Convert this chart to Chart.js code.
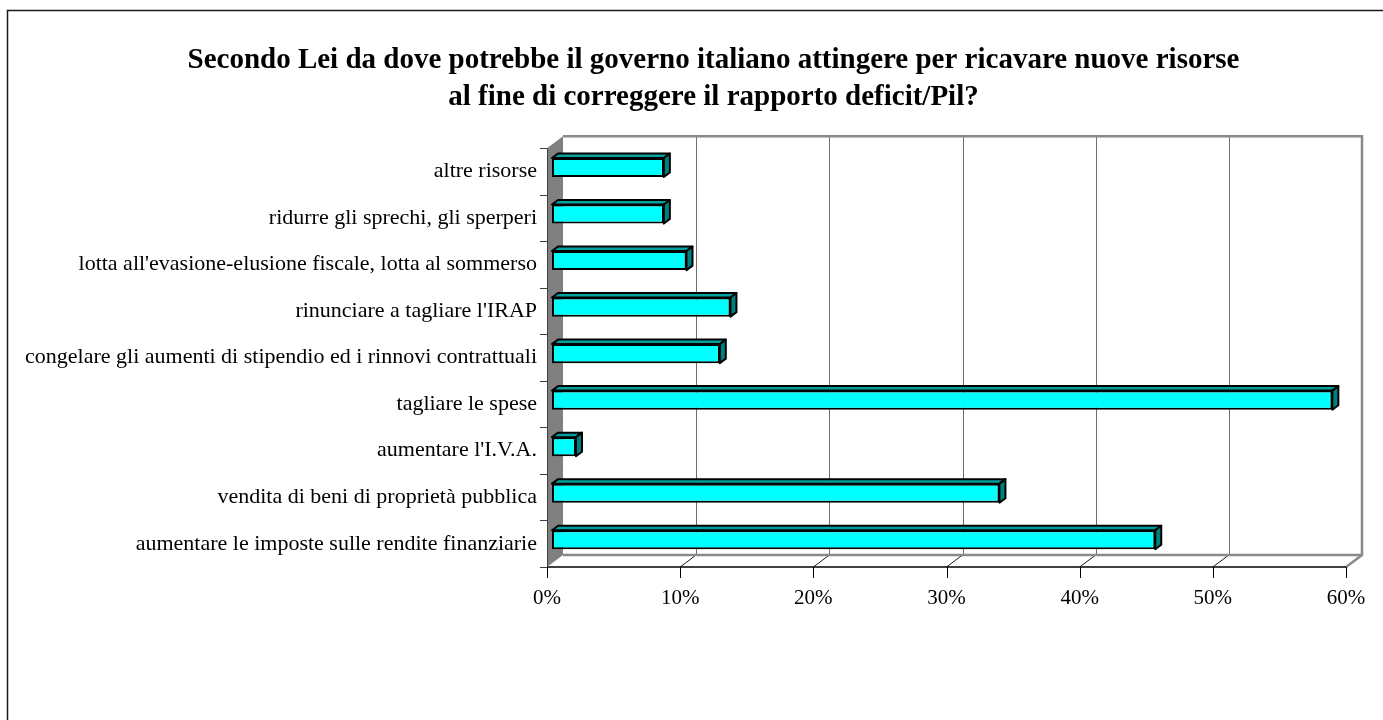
<!DOCTYPE html>
<html>
<head>
<meta charset="utf-8">
<script src="https://cdn.jsdelivr.net/npm/chart.js@4.4.0/dist/chart.umd.min.js"></script>
<style>
  html, body { margin: 0; padding: 0; background: #fff; }
</style>
</head>
<body>
<canvas id="myChart" width="1383" height="720"></canvas>
<script>
// answers, listed from the bottom bar upwards
var categories = [
    'aumentare le imposte sulle rendite finanziarie',
    'vendita di beni di proprietà pubblica',
    "aumentare l'I.V.A.",
    'tagliare le spese',
    'congelare gli aumenti di stipendio ed i rinnovi contrattuali',
    "rinunciare a tagliare l'IRAP",
    "lotta all'evasione-elusione fiscale, lotta al sommerso",
    'ridurre gli sprechi, gli sperperi',
    'altre risorse'
];
// share of answers, in percent
var values = [45.3, 33.6, 1.8, 58.6, 12.6, 13.4, 10.1, 8.4, 8.4];
var tickLabels = ['0%', '10%', '20%', '30%', '40%', '50%', '60%'];

var FONT = '"Liberation Serif", "Times New Roman", serif';

// fake 3d: the bars sit a little behind the front plane
var BAR_OFF_X = 5, BAR_OFF_Y = 4;     // front plane -> bar front face
var WALL_DX = 16, WALL_DY = -12;      // front plane -> back wall
var BAR_DX = 6, BAR_DY = -4.5;        // bar depth

function poly(ctx, pts) {
    ctx.beginPath();
    ctx.moveTo(pts[0][0], pts[0][1]);
    for (var i = 1; i < pts.length; i++) ctx.lineTo(pts[i][0], pts[i][1]);
    ctx.closePath();
}

var frame3d = {
    id: 'frame3d',
    beforeDraw: function (chart) {
        var ctx = chart.ctx;
        ctx.save();
        ctx.strokeStyle = '#1a1a1a';
        ctx.lineWidth = 1.5;
        ctx.beginPath();
        ctx.moveTo(7.5, 720);
        ctx.lineTo(7.5, 10.5);
        ctx.lineTo(1383, 10.5);
        ctx.stroke();
        ctx.restore();
    },
    beforeDatasetsDraw: function (chart) {
        var ctx = chart.ctx, xs = chart.scales.x, area = chart.chartArea;
        var fx = function (v) { return xs.getPixelForValue(v) - BAR_OFF_X; };
        var top = area.top + BAR_OFF_Y, bottom = area.bottom + BAR_OFF_Y;
        var x0 = fx(0), x1 = fx(60);
        ctx.save();

        // back wall with its gridlines
        ctx.fillStyle = '#fff';
        ctx.fillRect(x0 + WALL_DX, top + WALL_DY, x1 - x0, bottom - top);
        ctx.strokeStyle = '#6e6e6e';
        ctx.lineWidth = 1;
        for (var v = 10; v < 60; v += 10) {
            var gx = Math.round(fx(v) + WALL_DX) + 0.5;
            ctx.beginPath();
            ctx.moveTo(gx, top + WALL_DY);
            ctx.lineTo(gx, bottom + WALL_DY);
            ctx.stroke();
        }

        // floor
        poly(ctx, [[x0, bottom], [x1, bottom], [x1 + WALL_DX, bottom + WALL_DY], [x0 + WALL_DX, bottom + WALL_DY]]);
        ctx.fillStyle = '#fff';
        ctx.fill();
        ctx.strokeStyle = '#1a1a1a';
        ctx.lineWidth = 1;
        for (v = 10; v < 60; v += 10) {
            ctx.beginPath();
            ctx.moveTo(fx(v), bottom);
            ctx.lineTo(fx(v) + WALL_DX, bottom + WALL_DY);
            ctx.stroke();
        }

        // grey outline of the box: top, right side, back floor edge
        ctx.strokeStyle = '#8a8a8a';
        ctx.lineWidth = 2.5;
        ctx.lineJoin = 'miter';
        ctx.beginPath();
        ctx.moveTo(x0 + WALL_DX, top + WALL_DY);
        ctx.lineTo(x1 + WALL_DX, top + WALL_DY);
        ctx.lineTo(x1 + WALL_DX, bottom + WALL_DY);
        ctx.lineTo(x1, bottom);
        ctx.stroke();
        ctx.beginPath();
        ctx.moveTo(x0 + WALL_DX, bottom + WALL_DY);
        ctx.lineTo(x1 + WALL_DX, bottom + WALL_DY);
        ctx.stroke();

        // left wall
        poly(ctx, [[x0, top], [x0 + WALL_DX, top + WALL_DY], [x0 + WALL_DX, bottom + WALL_DY], [x0, bottom]]);
        ctx.fillStyle = '#808080';
        ctx.fill();

        // front axis line and ticks
        ctx.strokeStyle = '#000';
        ctx.lineWidth = 1.5;
        ctx.beginPath();
        ctx.moveTo(x0, bottom);
        ctx.lineTo(x1, bottom);
        ctx.stroke();
        ctx.lineWidth = 1;
        for (v = 0; v <= 60; v += 10) {
            var tx = Math.round(fx(v)) + 0.5;
            ctx.beginPath();
            ctx.moveTo(tx, bottom);
            ctx.lineTo(tx, bottom + 11);
            ctx.stroke();
        }

        // category ticks on the left of the wall
        ctx.strokeStyle = '#404040';
        var n = categories.length, step = (bottom - top) / n;
        for (var i = 0; i <= n; i++) {
            var ty = Math.round(top + i * step) + 0.5;
            ctx.beginPath();
            ctx.moveTo(x0 - 7, ty);
            ctx.lineTo(x0, ty);
            ctx.stroke();
        }
        ctx.beginPath();
        ctx.moveTo(x0 + 0.5, top);
        ctx.lineTo(x0 + 0.5, bottom);
        ctx.stroke();
        ctx.restore();
    },
    afterDatasetsDraw: function (chart) {
        var ctx = chart.ctx;
        ctx.save();
        ctx.strokeStyle = '#000';
        ctx.lineWidth = 2;
        ctx.lineJoin = 'round';
        chart.getDatasetMeta(0).data.forEach(function (bar) {
            var p = bar.getProps(['x', 'y', 'base', 'height'], true);
            var t = p.y - p.height / 2, b = p.y + p.height / 2;
            // top face
            poly(ctx, [[p.base, t], [p.base + BAR_DX, t + BAR_DY], [p.x + BAR_DX, t + BAR_DY], [p.x, t]]);
            ctx.fillStyle = '#00a0a0';
            ctx.fill();
            ctx.stroke();
            // end face
            poly(ctx, [[p.x, t], [p.x + BAR_DX, t + BAR_DY], [p.x + BAR_DX, b + BAR_DY], [p.x, b]]);
            ctx.fillStyle = '#007f7f';
            ctx.fill();
            ctx.stroke();
        });
        ctx.restore();
    }
};

var ctx = document.getElementById('myChart').getContext('2d');
var chart = new Chart(ctx, {
    type: 'bar',
    data: {
        labels: categories,
        datasets: [{
            data: values,
            backgroundColor: '#00ffff',
            borderColor: '#000',
            borderWidth: 2,
            borderSkipped: false,
            categoryPercentage: 1,
            barPercentage: 0.41
        }]
    },
    options: {
        indexAxis: 'y',
        responsive: false,
        animation: false,
        devicePixelRatio: 1,
        layout: { padding: { left: 76, right: 32, top: 0, bottom: 0 }, autoPadding: false },
        plugins: {
            legend: { display: false },
            tooltip: { enabled: false },
            title: {
                display: true,
                text: ['Secondo Lei da dove potrebbe il governo italiano attingere per ricavare nuove risorse',
                       'al fine di correggere il rapporto deficit/Pil?'],
                color: '#000',
                font: { family: FONT, size: 29, weight: 'bold', lineHeight: 1.28 },
                padding: { top: 42, bottom: 28 }
            }
        },
        scales: {
            x: {
                min: 0,
                max: 60,
                grid: { display: false },
                border: { display: false },
                ticks: {
                    stepSize: 10,
                    padding: 15,
                    labelOffset: -BAR_OFF_X,
                    color: '#000',
                    font: { family: FONT, size: 21 },
                    callback: function (v, i) { return tickLabels[i]; }
                },
                afterFit: function (s) {
                    s.height = 157;
                    s.paddingLeft = 0;
                    s.paddingRight = 0;
                }
            },
            y: {
                reverse: true,
                grid: { display: false },
                border: { display: false },
                ticks: {
                    padding: 7,
                    labelOffset: BAR_OFF_Y,
                    color: '#000',
                    font: { family: FONT, size: 22 }
                },
                afterFit: function (s) {
                    s.width = 476;
                    s.paddingTop = 0;
                    s.paddingBottom = 0;
                }
            }
        }
    },
    plugins: [frame3d]
});

// labels overhang the axis box on the left; draw them unclipped
chart.scales.y._computeLabelArea = function () { return undefined; };
chart.draw();
</script>
